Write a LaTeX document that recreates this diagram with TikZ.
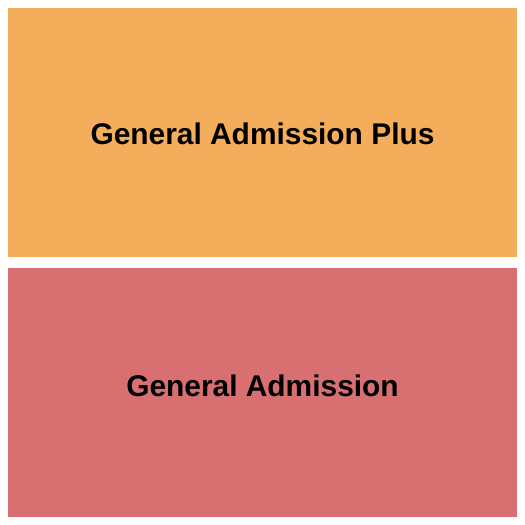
\documentclass[tikz,border=0pt]{standalone}
\usepackage{fontspec}
\setmainfont{Liberation Sans}
\definecolor{gaplus}{HTML}{F4AE5B}
\definecolor{ga}{HTML}{D87071}
\begin{document}
\begin{tikzpicture}[x=1pt,y=1pt,
  lbl/.style={font=\fontsize{29.9}{32}\selectfont\bfseries, text=black, anchor=base, inner sep=0pt}]
\useasboundingbox (0,0) rectangle (525,525);
\fill[white] (0,0) rectangle (525,525);
\fill[gaplus] (8,268) rectangle (517,517);
\fill[ga] (8,8) rectangle (517,257);
\node[lbl] (plus) at (262.5,380) {General Admission Plus};
\node[lbl] (gen) at (262.5,128) {General Admission};
\end{tikzpicture}
\end{document}
